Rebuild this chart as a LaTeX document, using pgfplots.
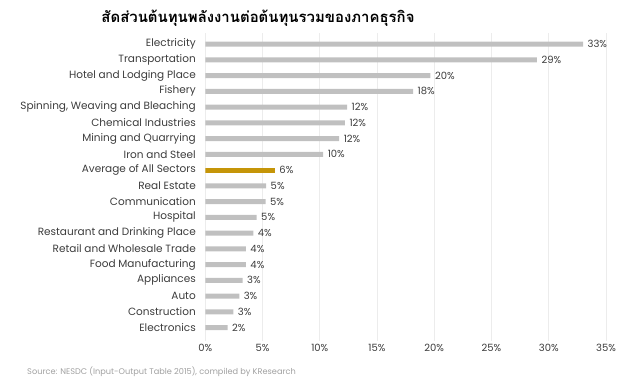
\documentclass[border=0pt]{standalone}
\usepackage{pgfplots}
\pgfplotsset{compat=1.18}
\usepackage{pgfplotstable}
\usepackage{fontspec}
\setmainfont{Poppins}
\newfontfamily\thaifont[Script=Thai]{Loma}
\definecolor{bargray}{RGB}{192,192,192}
\definecolor{gold}{RGB}{197,149,8}
\definecolor{txt}{RGB}{60,60,60}
\definecolor{gridc}{RGB}{236,236,236}
\definecolor{src}{RGB}{160,160,160}
\pgfplotstableread{
idx val lab
0 1.95 2
1 2.45 3
2 2.97 3
3 3.26 3
4 3.55 4
5 3.55 4
6 4.19 4
7 4.49 5
8 5.27 5
9 5.32 5
11 10.3 10
12 11.7 12
13 12.2 12
14 12.39 12
15 18.15 18
16 19.67 20
17 28.97 29
18 33.0 33
}\graydata
\pgfplotstableread{
idx val lab
10 6.08 6
}\golddata
\begin{document}
\begin{tikzpicture}[x=1pt,y=1pt]
\useasboundingbox (0,0) rectangle (640,387);
\begin{axis}[
  at={(205.3pt,46pt)}, anchor=south west,
  scale only axis, width=400.7pt, height=308pt,
  xmin=0, xmax=35, ymin=-0.85, ymax=18.7,
  xbar, bar width=5pt,
  xtick={0,5,...,35},
  xticklabel={\pgfmathprintnumber{\tick}\%},
  /pgf/number format/assume math mode=true,
  ytick={0,...,18},
  yticklabels={Electronics,Construction,Auto,Appliances,Food Manufacturing,Retail and Wholesale Trade,Restaurant and Drinking Place,Hospital,Communication,Real Estate,Average of All Sectors,Iron and Steel,Mining and Quarrying,Chemical Industries,{Spinning, Weaving and Bleaching},Fishery,Hotel and Lodging Place,Transportation,Electricity},
  major tick length=0pt,
  xmajorgrids, grid style={gridc, line width=0.8pt},
  axis lines*=left,
  axis line style={-},
  x axis line style={draw=none},
  y axis line style={draw=gridc, line width=0.8pt},
  tick label style={font=\fontsize{10.5}{12}\selectfont, text=txt},
  xticklabel style={font=\fontsize{10}{12}\selectfont},
  yticklabel style={xshift=-6pt},
  point meta=explicit,
  nodes near coords={\pgfmathprintnumber{\pgfplotspointmeta}\%},
  nodes near coords style={font=\fontsize{10}{12}\selectfont, text=txt, anchor=west, xshift=1pt, /pgf/number format/assume math mode=true},
]
\addplot[fill=bargray, draw=none, bar shift=0pt] table[x=val, y=idx, meta=lab] {\graydata};
\addplot[fill=gold, draw=none, bar shift=0pt] table[x=val, y=idx, meta=lab] {\golddata};
\end{axis}
\node at (258,369) {\resizebox{313pt}{!}{\thaifont\bfseries สัดส่วนต้นทุนพลังงานต่อต้นทุนรวมของภาคธุรกิจ}};
\node[anchor=west, inner sep=0pt, text=src, font=\fontsize{8.2}{10}\selectfont] at (27,15) {Source: NESDC (Input-Output Table 2015), compiled by KResearch};
\end{tikzpicture}
\end{document}
